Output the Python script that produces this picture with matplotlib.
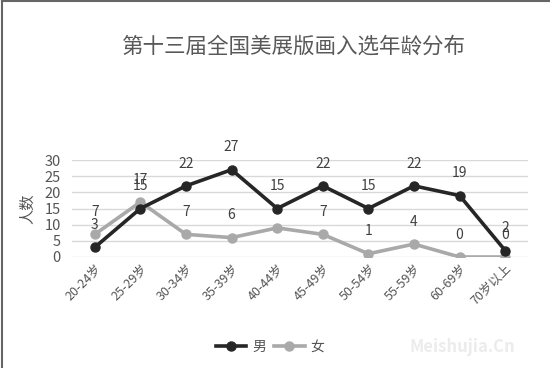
import numpy as np
import matplotlib.pyplot as plt
from matplotlib.lines import Line2D

plt.rcParams['font.family'] = ['Noto Sans CJK SC', 'DejaVu Sans']

ages = ["20-24岁", "25-29岁", "30-34岁", "35-39岁", "40-44岁",
        "45-49岁", "50-54岁", "55-59岁", "60-69岁", "70岁以上"]
male = [3, 15, 22, 27, 15, 22, 15, 22, 19, 2]
female = [7, 17, 7, 6, 9, 7, 1, 4, 0, 0]
female_labels = ["7", "17", "7", "6", "", "7", "1", "4", "0", "0"]

fig = plt.figure(figsize=(5.5, 3.68), dpi=100)
ax = fig.add_axes([72/550, 1 - 257/368, 456/550, 97/368])

x = np.arange(len(ages))
ax.plot(x, male, color="#262626", lw=2.6, marker="o", ms=6.5, label="男", zorder=4)
ax.plot(x, female, color="#a9a9a9", lw=2.6, marker="o", ms=6.5, label="女", zorder=3)

for i, v in enumerate(male):
    ax.annotate(str(v), (i, v), xytext=(0, 11), textcoords="offset points",
                ha="center", va="bottom", fontsize=10, color="#404040",
                annotation_clip=False)
for i, v in enumerate(female):
    ax.annotate(female_labels[i], (i, v), xytext=(0, 11), textcoords="offset points",
                ha="center", va="bottom", fontsize=10, color="#404040",
                annotation_clip=False)

ax.set_xlim(-0.5, 9.5)
ax.set_ylim(0, 30)
ax.set_yticks(range(0, 31, 5))
ax.grid(axis="y", color="#d9d9d9", lw=1)
ax.set_axisbelow(True)
for s in ax.spines.values():
    s.set_visible(False)
ax.tick_params(length=0, labelsize=10.5, colors="#555555")
ax.tick_params(axis="y", pad=8)
ax.set_xticks(x)
ax.set_xticklabels(ages, rotation=45, ha="right", rotation_mode="anchor", fontsize=9)
ax.set_ylabel("人数", fontsize=11, color="#555555", labelpad=6)

fig.text(0.535, 1 - 47/368, "第十三届全国美展版画入选年龄分布", ha="center", va="center",
         fontsize=15.5, color="#595959")

handles = [Line2D([], [], color="#262626", lw=2.6, marker="o", ms=6.5),
           Line2D([], [], color="#a9a9a9", lw=2.6, marker="o", ms=6.5)]
fig.legend(handles, ["男", "女"], loc="center", bbox_to_anchor=(270/550, 1 - 347/368),
           ncol=2, frameon=False, fontsize=10, handlelength=2.2, columnspacing=0.6,
           handletextpad=0.4, labelcolor="#555555")

fig.text(0.84, 1 - 347/368, "Meishujia.Cn", ha="center", va="center",
         fontsize=12, color="#ececec", fontweight="bold")

fig.add_artist(Line2D([0.004, 0.004], [0, 0.997], color="#666666", lw=1.5))
fig.add_artist(Line2D([0.004, 1], [0.997, 0.997], color="#666666", lw=1.5))

fig.savefig("out.png", dpi=100)
